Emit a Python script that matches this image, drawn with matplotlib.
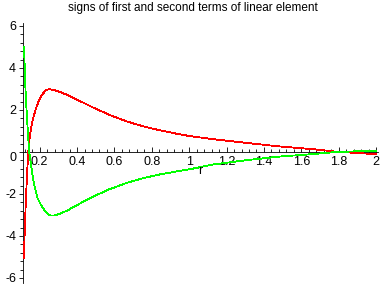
import matplotlib
matplotlib.use("Agg")
import matplotlib.pyplot as plt
import matplotlib.ticker as mtick
import matplotlib.transforms as mtrans

plt.rcParams["font.family"] = ["Liberation Sans", "DejaVu Sans"]
plt.rcParams["axes.unicode_minus"] = False

# values
r_first = [0.116, 0.121, 0.127, 0.133, 0.139, 0.148, 0.162, 0.180, 0.198, 0.216,
           0.234, 0.252, 0.278, 0.305, 0.350, 0.403, 0.485, 0.575, 0.664, 0.753,
           0.843, 0.932, 1.000, 1.127, 1.307, 1.485, 1.663, 1.780, 1.910, 2.000]
first_term = [-5.05, -3.5, -2.2, -1.0, 0.0, 0.8, 1.5, 2.07, 2.48, 2.76,
              2.95, 2.99, 2.95, 2.87, 2.71, 2.48, 2.12, 1.76, 1.46, 1.22,
              1.03, 0.87, 0.76, 0.61, 0.43, 0.26, 0.13, 0.02, -0.06, -0.1]

r_second = [0.117, 0.121, 0.126, 0.132, 0.138, 0.144, 0.153, 0.162, 0.171, 0.180,
            0.189, 0.207, 0.225, 0.243, 0.260, 0.278, 0.314, 0.350, 0.396, 0.485,
            0.575, 0.664, 0.753, 0.843, 0.932, 1.000, 1.127, 1.307, 1.485, 1.663,
            1.790, 2.000]
second_term = [5.0, 3.75, 2.6, 1.7, 0.8, 0.0, -0.54, -1.1, -1.57, -1.89,
               -2.2, -2.52, -2.76, -2.95, -3.03, -3.03, -2.92, -2.78, -2.55, -2.13,
               -1.77, -1.48, -1.25, -1.07, -0.93, -0.83, -0.6, -0.39, -0.22, -0.1,
               0.0, 0.06]

fig = plt.figure(figsize=(3.88, 2.88), dpi=100)
ax = fig.add_axes([23 / 388, 5 / 288, 355 / 388, 260 / 288])

ax.plot(r_first, first_term, color="#ff0000", lw=0.6, antialiased=False,
        clip_on=False, zorder=3)
ax.plot(r_second, second_term, color="#00ff00", lw=0.6, antialiased=False,
        clip_on=False, zorder=3)

ax.set_xlim(0.111, 2.01)
ax.set_ylim(-6.24, 6.14)

# maple style axes: y axis at the left, x axis through zero
ax.spines["top"].set_visible(False)
ax.spines["right"].set_visible(False)
ax.spines["bottom"].set_position(("data", 0))
for sp in ("left", "bottom"):
    ax.spines[sp].set_linewidth(0.6)

ax.xaxis.set_major_locator(mtick.MultipleLocator(0.2))
ax.xaxis.set_minor_locator(mtick.MultipleLocator(0.04))
ax.yaxis.set_major_locator(mtick.MultipleLocator(2))
ax.yaxis.set_minor_locator(mtick.MultipleLocator(0.4))
ax.xaxis.set_major_formatter(mtick.FuncFormatter(lambda v, _: f"{v:g}"))
ax.yaxis.set_major_formatter(mtick.FuncFormatter(lambda v, _: f"{v:g}"))

ax.tick_params(axis="x", which="major", direction="in", length=3.5, width=0.6,
               pad=3, labelsize=9)
ax.tick_params(axis="x", which="minor", direction="in", length=2.2, width=0.6)
ax.tick_params(axis="y", which="major", direction="out", length=3, width=0.6,
               pad=2, labelsize=9)
ax.tick_params(axis="y", which="minor", direction="out", length=2.2, width=0.6)

# the "0" on the y axis sits a bit under the x axis
fig.canvas.draw()
shift = mtrans.ScaledTranslation(0, -5 / 100, fig.dpi_scale_trans)
for lab in ax.get_yticklabels():
    if lab.get_text() == "0":
        lab.set_transform(lab.get_transform() + shift)

fig.text(200 / 388, 1 - 171 / 288, "r", ha="center", va="center", fontsize=9)
fig.text(193 / 388, 1 - 8 / 288, "signs of first and second terms of linear element",
         ha="center", va="center", fontsize=8.5)

fig.savefig("out.png", dpi=100)
